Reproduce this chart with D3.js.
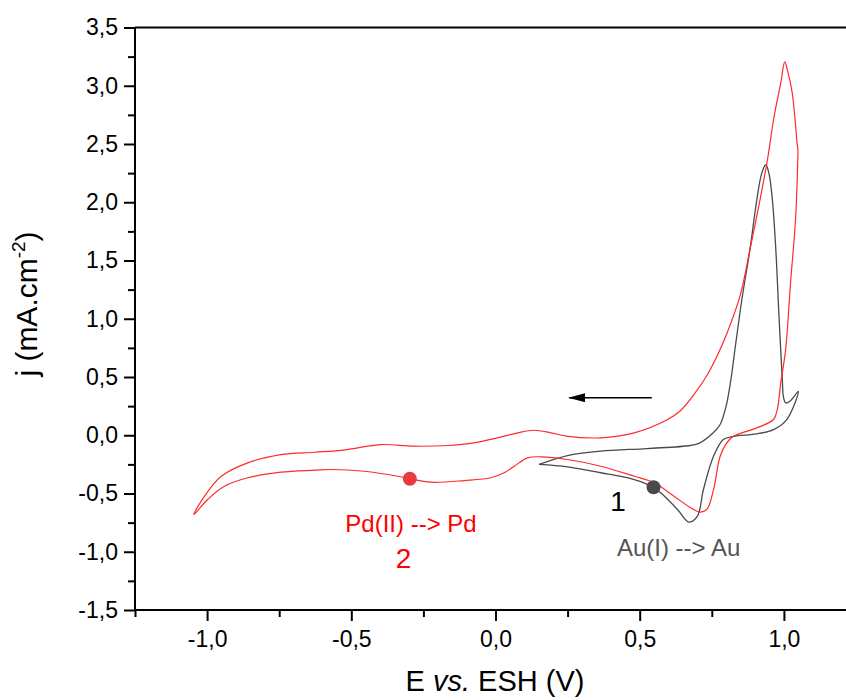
<!DOCTYPE html>
<html>
<head>
<meta charset="utf-8">
<script src="https://cdn.jsdelivr.net/npm/d3@7"></script>
<style>
  html, body { margin: 0; padding: 0; background: #fff; }
  svg { display: block; overflow: hidden; }
  text { font-family: "Liberation Sans", Arial, sans-serif; }
</style>
</head>
<body>
<svg id="chart" width="846" height="700"></svg>
<script>
// ---- Data ----
// Curve 2 (red, Pd): potential E (V vs ESH) and current density j (mA.cm-2)
const redE = [1.049, 1.041, 1.023, 1.006, 0.989, 0.977, 0.964, 0.906, 0.825, 0.802, 0.779, 0.756, 0.733, 0.709,
  0.677, 0.619, 0.550, 0.481, 0.365, 0.250, 0.157, 0.111, 0.065, 0.030, -0.016, -0.108, -0.224, -0.297, -0.339,
  -0.455, -0.570, -0.628, -0.744, -0.859, -0.940, -0.998, -1.046,
  -1.009, -0.951, -0.859, -0.744, -0.628, -0.536, -0.478, -0.397, -0.282, -0.166, -0.074, 0.007, 0.077, 0.134,
  0.192, 0.250, 0.365, 0.481, 0.594, 0.640, 0.692, 0.730, 0.765, 0.803, 0.848, 0.882, 0.917, 0.943, 0.966, 0.989, 1.003,
  1.012, 1.029, 1.047, 1.049];
const redJ = [2.450, 1.878, 1.307, 0.735, 0.449, 0.220, 0.135, 0.063, -0.009, -0.065, -0.180, -0.466, -0.637, -0.660,
  -0.623, -0.523, -0.408, -0.352, -0.266, -0.208, -0.185, -0.194, -0.266, -0.322, -0.365, -0.389, -0.403, -0.374, -0.352,
  -0.309, -0.294, -0.300, -0.317, -0.365, -0.437, -0.551, -0.680,
  -0.523, -0.352, -0.237, -0.166, -0.146, -0.129, -0.108, -0.080, -0.094, -0.088, -0.065, -0.022, 0.021, 0.043,
  0.021, -0.009, -0.022, 0.021, 0.131, 0.208, 0.363, 0.500, 0.663, 0.878, 1.196, 1.590, 2.019, 2.365, 2.736, 3.022, 3.205,
  3.136, 2.936, 2.479, 2.450];

// Curve 1 (dark grey, Au)
const blackE = [0.151, 0.250, 0.365, 0.481, 0.548, 0.573, 0.631, 0.671, 0.700, 0.721, 0.756, 0.790, 0.825, 0.906,
  0.964, 1.010, 1.050, 1.021, 1.006, 0.998, 0.995, 0.983, 0.972, 0.960, 0.948, 0.937, 0.923, 0.906, 0.882, 0.854,
  0.830, 0.816, 0.799, 0.778, 0.754, 0.709, 0.675, 0.525, 0.365, 0.250, 0.151];
const blackJ = [-0.250, -0.271, -0.322, -0.380, -0.446, -0.494, -0.637, -0.746, -0.695, -0.466, -0.180, -0.037, -0.009, 0.012,
  0.049, 0.135, 0.377, 0.292, 0.278, 0.334, 0.449, 1.021, 1.593, 2.021, 2.250, 2.322, 2.248, 2.019, 1.590, 1.161,
  0.732, 0.474, 0.243, 0.088, 0.019, -0.065, -0.088, -0.114, -0.137, -0.174, -0.250];

// Axes
const xDomain = [-1.25, 1.25];
const yDomain = [-1.5, 3.5];
const xMajorTicks = [-1.0, -0.5, 0.0, 0.5, 1.0];
const xMinorTicks = [-1.25, -0.75, -0.25, 0.25, 0.75, 1.25];
const yMajorTicks = [-1.5, -1.0, -0.5, 0.0, 0.5, 1.0, 1.5, 2.0, 2.5, 3.0, 3.5];
const yMinorTicks = [-1.25, -0.75, -0.25, 0.25, 0.75, 1.25, 1.75, 2.25, 2.75, 3.25];
const xTitle = ["E ", "vs.", " ESH (V)"];
const yTitle = ["j (mA.cm", "-2", ")"];

// Annotations
const markers = [
  { E: 0.548, j: -0.446, series: "Au" },
  { E: -0.297, j: -0.374, series: "Pd" }
];
const labels = [
  { text: "1", E: 0.425, j: -0.650, series: "Au", kind: "num" },
  { text: "Au(I) --> Au", E: 0.421, j: -1.036, series: "Au", kind: "txt" },
  { text: "Pd(II) --> Pd", E: -0.293, j: -0.830, series: "Pd", kind: "txt" },
  { text: "2", E: -0.319, j: -1.140, series: "Pd", kind: "num" }
];
const arrow = { E0: 0.542, E1: 0.252, j: 0.322 };

// ---- Drawing ----
const svg = d3.select("#chart");
const L = 135, R = 856, T = 27.5, B = 610;
const x = d3.scaleLinear().domain(xDomain).range([L, R]);
const y = d3.scaleLinear().domain(yDomain).range([B, T]);
const fmt = v => v.toFixed(1).replace(".", ",");

const colors = { Pd: "#ff2a2a", Au: "#4a4a4a" };
const textColors = { Pd: "#ff0000", Au: "#555555" };

// curves
const line = d3.line().x(d => x(d[0])).y(d => y(d[1])).curve(d3.curveCatmullRom.alpha(0.5));
svg.append("path")
  .datum(blackE.map((e, i) => [e, blackJ[i]]))
  .attr("d", line).attr("fill", "none").attr("stroke", colors.Au).attr("stroke-width", 1.3);
svg.append("path")
  .datum(redE.map((e, i) => [e, redJ[i]]))
  .attr("d", line).attr("fill", "none").attr("stroke", colors.Pd).attr("stroke-width", 1.2);

// axes
const axisL = svg.append("g").attr("transform", `translate(${L},0)`)
  .call(d3.axisLeft(y).tickValues(yMajorTicks).tickFormat(fmt).tickSize(11).tickPadding(6));
const axisB = svg.append("g").attr("transform", `translate(0,${B})`)
  .call(d3.axisBottom(x).tickValues(xMajorTicks).tickFormat(fmt).tickSize(11).tickPadding(10));
svg.append("g").attr("transform", `translate(${L},0)`)
  .call(d3.axisLeft(y).tickValues(yMinorTicks).tickFormat("").tickSize(7))
  .select(".domain").remove();
svg.append("g").attr("transform", `translate(0,${B})`)
  .call(d3.axisBottom(x).tickValues(xMinorTicks).tickFormat("").tickSize(7))
  .select(".domain").remove();
[axisL, axisB].forEach(g => {
  g.attr("font-size", 23).attr("font-family", "'Liberation Sans', Arial, sans-serif");
  g.selectAll("text").attr("font-size", 23).attr("fill", "#000");
});
svg.selectAll(".domain").attr("stroke", "#000").attr("stroke-width", 2);
svg.selectAll(".tick line").attr("stroke", "#000").attr("stroke-width", 2);
axisL.select(".domain").attr("d", `M0,${B}V${T}`);
axisB.select(".domain").attr("d", `M${L},0H${R}`);
// top frame line
svg.append("line").attr("x1", L).attr("x2", R).attr("y1", T).attr("y2", T)
  .attr("stroke", "#000").attr("stroke-width", 2);

// axis titles
const xt = svg.append("text").attr("x", 495).attr("y", 691).attr("text-anchor", "middle")
  .attr("font-size", 29).attr("fill", "#000");
xt.append("tspan").text(xTitle[0]);
xt.append("tspan").attr("font-style", "italic").text(xTitle[1]);
xt.append("tspan").text(xTitle[2]);

const yt = svg.append("text").attr("transform", "translate(37,304) rotate(-90)")
  .attr("text-anchor", "middle").attr("font-size", 30).attr("fill", "#000");
yt.append("tspan").text(yTitle[0]);
yt.append("tspan").attr("font-size", 19).attr("dy", -12).text(yTitle[1]);
yt.append("tspan").attr("dy", 12).text(yTitle[2]);

// arrow
svg.append("defs").append("marker").attr("id", "ah")
  .attr("viewBox", "0 0 17 9").attr("refX", 16).attr("refY", 4.5)
  .attr("markerWidth", 17).attr("markerHeight", 9).attr("markerUnits", "userSpaceOnUse")
  .attr("orient", "auto")
  .append("path").attr("d", "M17,4.5L0,0L0,9Z").attr("fill", "#000");
svg.append("line")
  .attr("x1", x(arrow.E0)).attr("x2", x(arrow.E1) + 1)
  .attr("y1", y(arrow.j)).attr("y2", y(arrow.j))
  .attr("stroke", "#000").attr("stroke-width", 1.3)
  .attr("marker-end", "url(#ah)");

// markers
svg.selectAll("circle.mk").data(markers).join("circle").attr("class", "mk")
  .attr("cx", d => x(d.E)).attr("cy", d => y(d.j)).attr("r", 7)
  .attr("fill", d => d.series === "Pd" ? "#ea3a3f" : "#4a4a4a");

// labels
svg.selectAll("text.lbl").data(labels).join("text").attr("class", "lbl")
  .attr("x", d => x(d.E)).attr("y", d => y(d.j))
  .attr("text-anchor", d => d.text.startsWith("Au") ? "start" : "middle")
  .attr("font-size", d => d.kind === "num" ? 28 : 24)
  .attr("fill", d => d.text === "1" ? "#000" : textColors[d.series])
  .text(d => d.text);
</script>
</body>
</html>
